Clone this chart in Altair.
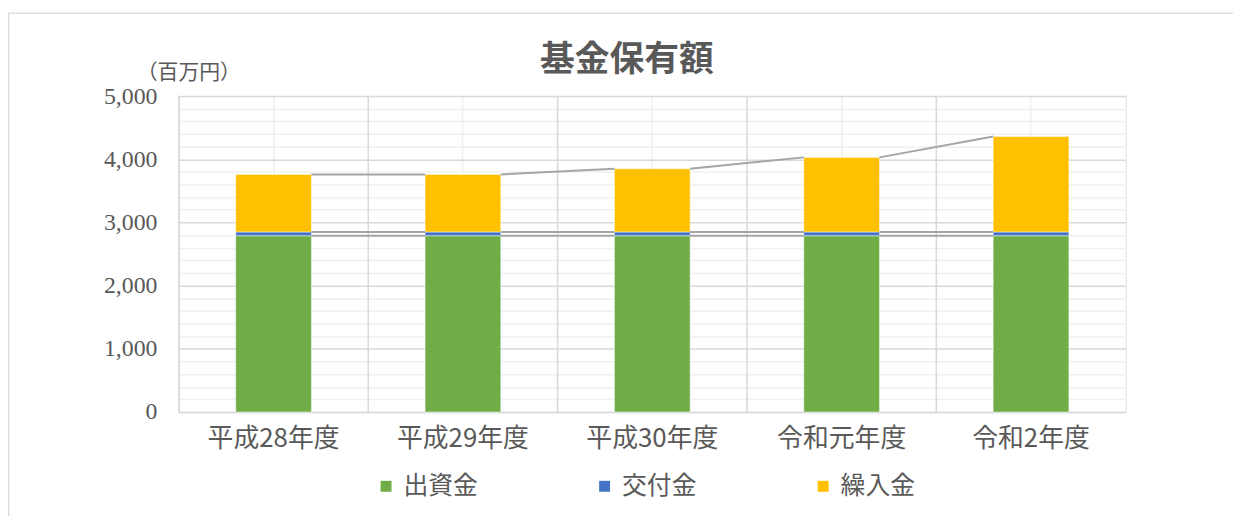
import altair as alt
import pandas as pd

# ---- data ----
years = ["平成28年度", "平成29年度", "平成30年度", "令和元年度", "令和2年度"]
series_names = ["出資金", "交付金", "繰入金"]
shusshi = [2790, 2790, 2790, 2790, 2790]   # 出資金
kofu = [60, 60, 60, 60, 60]                # 交付金
kurire = [910, 910, 1000, 1180, 1510]      # 繰入金
colors = ["#70AD47", "#4472C4", "#FFC000"]
y_ticks = list(range(0, 5001, 200))

rows = []
for i, yr in enumerate(years):
    for k, (name, vals) in enumerate(zip(series_names, [shusshi, kofu, kurire])):
        rows.append({"year": yr, "series": name, "value": vals[i], "order": k})
df = pd.DataFrame(rows)

tops = [
    shusshi,
    [a + b for a, b in zip(shusshi, kofu)],
    [a + b + c for a, b, c in zip(shusshi, kofu, kurire)],
]
seg = []
for k, t in enumerate(tops):
    for i in range(len(years) - 1):
        seg.append({"year": years[i], "year2": years[i + 1], "top": t[i], "top2": t[i + 1], "s": k})
seg_df = pd.DataFrame(seg)

GRID_MAJOR = "#d9d9d9"
GRID_MINOR = "#f0f0f0"
TEXT = "#595959"
JP = "Noto Sans CJK JP"

x_scale = alt.Scale(domain=years, paddingInner=0, paddingOuter=0)
y_scale = alt.Scale(domain=[0, 5000], nice=False)

x_axis = alt.Axis(
    title=None, bandPosition=0.5, tickBand="center",
    grid=True, gridColor=GRID_MINOR, gridWidth=1.5,
    ticks=False, domainColor=GRID_MAJOR, domainWidth=1.5,
    labelFont=JP, labelFontSize=26, labelColor=TEXT, labelPadding=14, labelAngle=0,
)
y_axis = alt.Axis(
    title=None, values=y_ticks, labelOverlap=False,
    labelExpr="datum.value % 1000 === 0 ? format(datum.value, ',') : ''",
    gridColor=alt.condition("datum.value % 1000 === 0", alt.value(GRID_MAJOR), alt.value(GRID_MINOR)),
    gridWidth=1.5, ticks=False, domain=False,
    labelFont="Liberation Serif", labelFontSize=24, labelColor=TEXT, labelPadding=22,
)

bars = alt.Chart(df).mark_bar(width=alt.RelativeBandSize(0.4), stroke="#ffffff", strokeWidth=0.5).encode(
    x=alt.X("year:N", sort=years, scale=x_scale, axis=x_axis),
    y=alt.Y("value:Q", stack="zero", scale=y_scale, axis=y_axis),
    color=alt.Color(
        "series:N",
        scale=alt.Scale(domain=series_names, range=colors),
        legend=alt.Legend(
            title=None, orient="none", legendX=196, legendY=380, direction="horizontal",
            symbolType="square", symbolSize=121, symbolStrokeWidth=0, padding=0,
            labelFont=JP, labelFontSize=25, labelColor=TEXT, labelOffset=5,
            columnPadding=114,
        ),
    ),
    order=alt.Order("order:Q", sort="ascending"),
)

boundary_lines = alt.Chart(pd.DataFrame({"year": years})).mark_rule(
    color=GRID_MAJOR, strokeWidth=1.5
).encode(x=alt.X("year:N", sort=years, scale=x_scale, bandPosition=0, axis=x_axis))

series_lines = alt.Chart(seg_df).mark_rule(
    color="#a5a5a5", strokeWidth=2, xOffset=38, x2Offset=-38
).encode(
    x=alt.X("year:N", sort=years, scale=x_scale, axis=x_axis),
    x2="year2:N",
    y=alt.Y("top:Q", scale=y_scale, axis=y_axis),
    y2="top2:Q",
    detail="s:N",
)

title = alt.Chart(pd.DataFrame({"t": ["基金保有額"]})).mark_text(
    font=JP, fontSize=35, fontWeight="bold", color=TEXT, align="center", baseline="middle"
).encode(text="t:N", x=alt.value(451), y=alt.value(-36))

unit = alt.Chart(pd.DataFrame({"t": ["（百万円）"]})).mark_text(
    font=JP, fontSize=21, color=TEXT, align="center", baseline="middle"
).encode(text="t:N", x=alt.value(10), y=alt.value(-23))

frame = alt.Chart(pd.DataFrame({"a": [0]})).mark_rect(
    filled=False, stroke=GRID_MAJOR, strokeWidth=1.5
).encode(x=alt.value(-171.5), x2=alt.value(1075), y=alt.value(-83.5), y2=alt.value(440))

chart = alt.layer(frame, bars, boundary_lines, series_lines, title, unit).properties(
    width=953, height=318,
    autosize=alt.AutoSizeParams(type="none"),
    padding={"left": 172, "top": 87, "right": 108, "bottom": 103},
).configure_view(stroke=GRID_MAJOR, strokeWidth=1.5).configure(background="#ffffff")

chart.save("out.html", embed_options={"renderer": "svg", "actions": False})
